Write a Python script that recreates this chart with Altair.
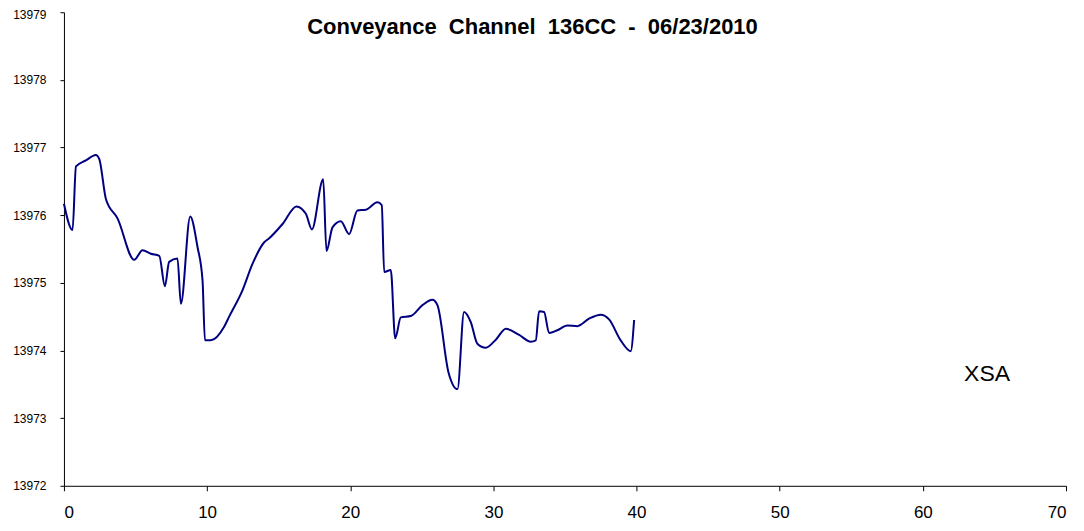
import altair as alt
import pandas as pd

# Station (x) and elevation (y)
station = [0.0, 0.6, 0.84, 1.53, 2.23, 2.47, 2.93, 3.75, 4.91, 5.49, 6.07, 6.66, 7.05, 7.35, 7.93,
           8.17, 8.82, 9.33, 9.68, 9.85, 10.26, 11.19, 11.54, 12.47, 13.17, 13.99, 14.34, 15.27,
           16.24, 16.90, 17.32, 18.11, 18.34, 18.76, 19.34, 19.92, 20.50, 21.09, 21.90, 22.2,
           22.37, 22.83, 23.14, 23.53, 24.23, 25.04, 25.74, 26.09, 26.86, 27.49, 27.95, 28.42,
           28.88, 29.47, 30.17, 30.87, 31.80, 32.61, 32.96, 33.19, 33.54, 33.89, 34.47, 35.17,
           35.87, 36.68, 37.50, 38.08, 38.89, 39.59, 39.83]
elevation = [13976.17, 13975.78, 13976.72, 13976.81, 13976.89, 13976.83, 13976.24, 13975.95,
             13975.34, 13975.48, 13975.43, 13975.40, 13974.95, 13975.31, 13975.36, 13974.69,
             13975.98, 13975.53, 13975.04, 13974.15, 13974.15, 13974.35, 13974.50, 13974.89,
             13975.28, 13975.60, 13975.66, 13975.87, 13976.13, 13976.02, 13975.79, 13976.53,
             13975.47, 13975.82, 13975.91, 13975.72, 13976.07, 13976.08, 13976.19, 13976.15,
             13975.16, 13975.19, 13974.18, 13974.49, 13974.51, 13974.67, 13974.75, 13974.67,
             13973.68, 13973.43, 13974.57, 13974.42, 13974.10, 13974.04, 13974.16, 13974.32,
             13974.23, 13974.13, 13974.15, 13974.58, 13974.57, 13974.26, 13974.30, 13974.37,
             13974.36, 13974.47, 13974.53, 13974.46, 13974.15, 13973.99, 13974.45]

x_ticks = [0, 10, 20, 30, 40, 50, 60, 70]
y_ticks = [13972, 13973, 13974, 13975, 13976, 13977, 13978, 13979]

title_text = "Conveyance\u00a0\u00a0Channel\u00a0\u00a0136CC\u00a0\u00a0-\u00a0\u00a006/23/2010"
label_text = "XSA"

FONT = "Liberation Sans"

df = pd.DataFrame({"station": station, "elevation": elevation})

line = alt.Chart(df).mark_line(
    color="#000080", strokeWidth=2, interpolate="monotone"
).encode(
    x=alt.X("station:Q",
            scale=alt.Scale(domain=[0, 70], nice=False, zero=False),
            axis=alt.Axis(values=x_ticks, title=None, grid=False, labelFontSize=17,
                          labelPadding=14, tickSize=5, labelFont=FONT,
                          domainColor="black", tickColor="black", labelColor="black")),
    y=alt.Y("elevation:Q",
            scale=alt.Scale(domain=[13972, 13979], nice=False, zero=False),
            axis=alt.Axis(values=y_ticks, format="d", title=None, grid=False,
                          labelFontSize=12, labelPadding=14, tickSize=4, labelFont=FONT,
                          labelOffset={"condition": {"test": "datum.value == 13979", "value": 2},
                                       "value": 0},
                          domainColor="black", tickColor="black", labelColor="black"))
)

title = alt.Chart(pd.DataFrame({"t": [title_text]})).mark_text(
    font=FONT, fontSize=22, fontWeight="bold", align="center", baseline="alphabetic",
    color="black"
).encode(x=alt.value(469), y=alt.value(22), text="t:N")

label = alt.Chart(pd.DataFrame({"t": [label_text]})).mark_text(
    font=FONT, fontSize=23, align="left", baseline="alphabetic", color="black"
).encode(x=alt.value(901), y=alt.value(369), text="t:N")

chart = alt.layer(line, title, label).properties(
    width=1003, height=474,
    autosize=alt.AutoSizeParams(type="none"),
    padding={"left": 56, "top": 4, "right": 10, "bottom": 37},
).configure_view(stroke=None).configure_axis(domainWidth=1, tickWidth=1)

chart.save("out.html", embed_options={"renderer": "svg", "actions": False})
